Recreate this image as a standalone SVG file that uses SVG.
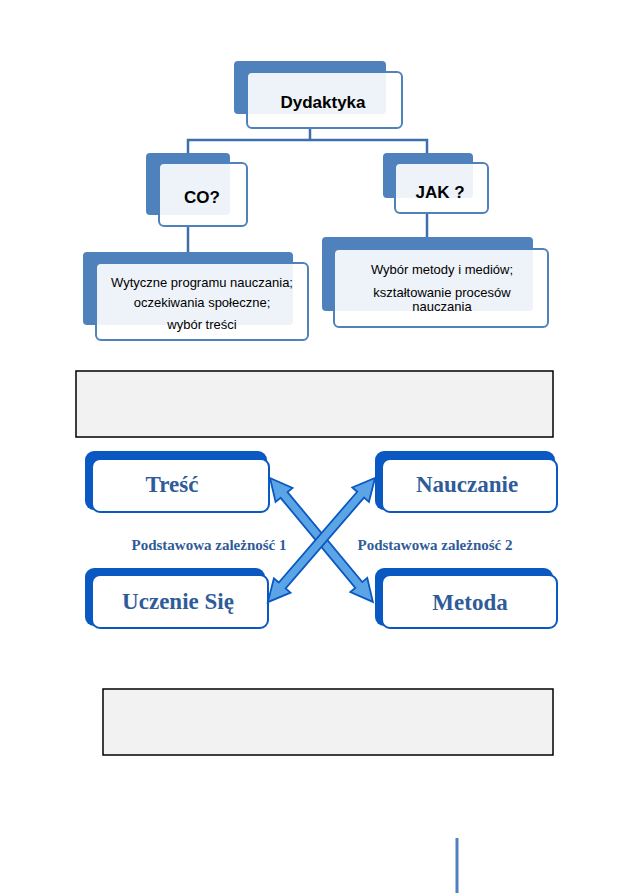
<svg xmlns="http://www.w3.org/2000/svg" width="630" height="893" viewBox="0 0 630 893">
<style>
.back{fill:#4F81BD;}
.front{fill:#FFFFFF;fill-opacity:0.9;stroke:#4F81BD;stroke-width:2;}
.conn{fill:none;stroke:#3F6FAA;stroke-width:2.5;}
.t1{font-family:"Liberation Sans",Arial,sans-serif;font-weight:bold;font-size:17px;fill:#000;text-anchor:middle;}
.t2{font-family:"Liberation Sans",Arial,sans-serif;font-size:13px;fill:#000;text-anchor:middle;}
.mback{fill:#0A58C2;}
.mfront{fill:#FFFFFF;stroke:#0A58C2;stroke-width:2;}
.mt{font-family:"Liberation Serif","Times New Roman",serif;font-weight:bold;font-size:23px;fill:#2F5C99;text-anchor:middle;}
.lab{font-family:"Liberation Serif","Times New Roman",serif;font-weight:bold;font-size:15px;fill:#2F5C99;text-anchor:middle;}
.grey{fill:#F2F2F2;stroke:#000;stroke-width:1.5;}
.arr{fill:#5BA4E6;stroke:#0A58C2;stroke-width:1.8;stroke-linejoin:miter;}
</style>
<rect width="630" height="893" fill="#FFFFFF"/>
<g id="connectors">
<path class="conn" d="M310,128 V140"/>
<path class="conn" d="M188,153 V140 H427 V153"/>
<path class="conn" d="M188,226 V252"/>
<path class="conn" d="M427,213 V237"/>
</g>
<g id="dydaktyka">
<rect class="back" x="234" y="61" width="152" height="53" rx="4"/>
<rect class="front" x="247" y="72" width="155" height="56" rx="5"/>
<text class="t1" x="323" y="108">Dydaktyka</text>
</g>
<g id="co">
<rect class="back" x="146" y="153" width="84" height="62" rx="4"/>
<rect class="front" x="159" y="163" width="88" height="63" rx="5"/>
<text class="t1" x="202" y="203">CO?</text>
</g>
<g id="jak">
<rect class="back" x="383" y="153" width="90" height="45" rx="4"/>
<rect class="front" x="395" y="163" width="93" height="50" rx="5"/>
<text class="t1" x="440" y="198">JAK ?</text>
</g>
<g id="wytyczne">
<rect class="back" x="83" y="252" width="210" height="73" rx="4"/>
<rect class="front" x="96" y="263" width="212" height="77" rx="5"/>
<text class="t2" x="202" y="287">Wytyczne programu nauczania;</text>
<text class="t2" x="202" y="307">oczekiwania społeczne;</text>
<text class="t2" x="202" y="329">wybór treści</text>
</g>
<g id="wybor">
<rect class="back" x="322" y="237" width="211" height="74" rx="4"/>
<rect class="front" x="334" y="249" width="214" height="78" rx="5"/>
<text class="t2" x="442" y="274">Wybór metody i mediów;</text>
<text class="t2" x="442" y="297">kształtowanie procesów</text>
<text class="t2" x="442" y="311">nauczania</text>
</g>
<g id="grey1">
<rect class="grey" x="76" y="371" width="477" height="66"/>
</g>
<g id="tresc">
<rect class="mback" x="85" y="451" width="182" height="59" rx="9"/>
<rect class="mfront" x="92" y="459" width="177" height="53" rx="8"/>
<text class="mt" x="172" y="492">Treść</text>
</g>
<g id="nauczanie">
<rect class="mback" x="375" y="451" width="180" height="59" rx="9"/>
<rect class="mfront" x="382" y="459" width="175" height="53" rx="8"/>
<text class="mt" x="467" y="492">Nauczanie</text>
</g>
<g id="uczenie">
<rect class="mback" x="85" y="568" width="180" height="58" rx="9"/>
<rect class="mfront" x="92" y="575" width="176" height="53" rx="8"/>
<text class="mt" x="178" y="609">Uczenie Się</text>
</g>
<g id="metoda">
<rect class="mback" x="375" y="568" width="178" height="58" rx="9"/>
<rect class="mfront" x="382" y="575" width="175" height="53" rx="8"/>
<text class="mt" x="470" y="610">Metoda</text>
</g>
<g id="arrows">
<polygon class="arr" transform="translate(270,478) rotate(50.3)" points="0,0 22,-11 22,-4.5 139,-4.5 139,-11 161,0 139,11 139,4.5 22,4.5 22,11"/>
<polygon class="arr" transform="translate(375,478) rotate(130.8)" points="0,0 22,-11 22,-4.5 142,-4.5 142,-11 164,0 142,11 142,4.5 22,4.5 22,11"/>
</g>
<g id="labels">
<text class="lab" x="209" y="550">Podstawowa zależność 1</text>
<text class="lab" x="435" y="550">Podstawowa zależność 2</text>
</g>
<g id="grey2">
<rect class="grey" x="103" y="689" width="450" height="66"/>
</g>
<line x1="457" y1="838" x2="457" y2="893" stroke="#4F81BD" stroke-width="3"/>
</svg>
